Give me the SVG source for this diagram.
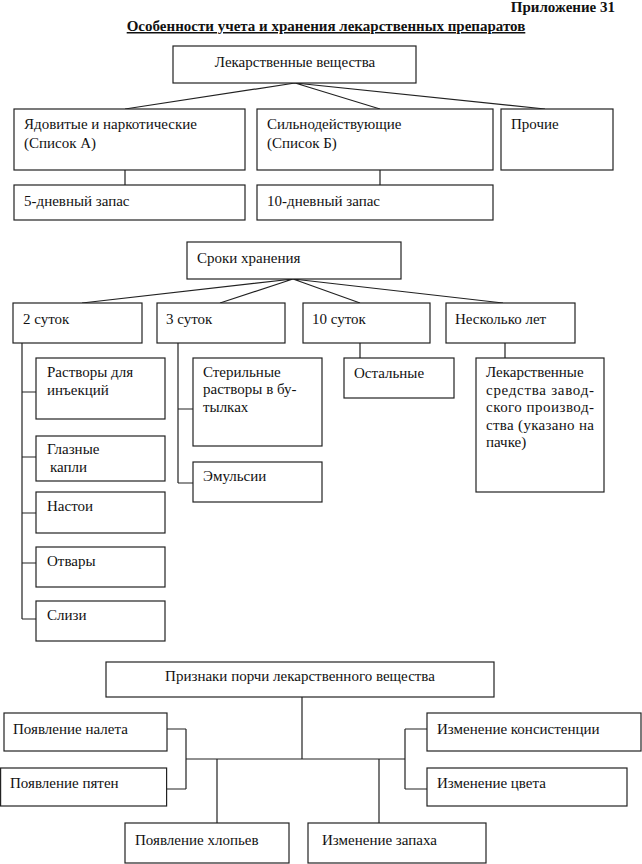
<svg xmlns="http://www.w3.org/2000/svg" width="642" height="864" viewBox="0 0 642 864">
<style>
.b{fill:#fff;stroke:#222;stroke-width:1.2}
.t{font-family:"Liberation Serif","Times New Roman",serif;font-size:15px;fill:#111}
.c{fill:none;stroke:#222;stroke-width:1.2}
.h{font-family:"Liberation Serif","Times New Roman",serif;font-size:15px;font-weight:bold;fill:#111}
</style>
<rect width="642" height="864" fill="#fff"/>
<text class="h" x="615" y="12" text-anchor="end">Приложение 31</text>
<text class="h" x="326" y="31" text-anchor="middle" text-decoration="underline">Особенности учета и хранения лекарственных препаратов</text>
<g id="connectors">
<path class="c" d="M295 83L125 109M295 83L380 109M295 83L545 109M125 170V185M380 170V185"/>
<path class="c" d="M293 279L82 303M293 279L220 303M293 279L360 303M293 279L503 303"/>
<path class="c" d="M22 343V619M22 392H36M22 457H36M22 513H36M22 563H36M22 619H36"/>
<path class="c" d="M178 343V483M178 409H193M178 483H193"/>
<path class="c" d="M360 343V358M505 343V358"/>
<path class="c" d="M302 697V759M186 759H405M186 729V789M167 729H186M167 789H186M217 759V823M379 759V823M405 729V789M405 729H427M405 789H427"/>
</g>
<g id="n1"><rect class="b" x="173" y="46" width="243" height="37"/><text class="t" x="295" y="67" text-anchor="middle">Лекарственные вещества</text></g>
<g id="n2"><rect class="b" x="14" y="109" width="231" height="61"/><text class="t" x="24" y="129">Ядовитые и наркотические</text><text class="t" x="24" y="148">(Список А)</text></g>
<g id="n3"><rect class="b" x="257" y="109" width="236" height="61"/><text class="t" x="267" y="129">Сильнодействующие</text><text class="t" x="267" y="148">(Список Б)</text></g>
<g id="n4"><rect class="b" x="501" y="109" width="112" height="61"/><text class="t" x="511" y="129">Прочие</text></g>
<g id="n5"><rect class="b" x="14" y="185" width="231" height="35"/><text class="t" x="24" y="206">5-дневный запас</text></g>
<g id="n6"><rect class="b" x="257" y="185" width="236" height="35"/><text class="t" x="267" y="206">10-дневный запас</text></g>
<g id="n7"><rect class="b" x="187" y="242" width="214" height="37"/><text class="t" x="197" y="263">Сроки хранения</text></g>
<g id="n8"><rect class="b" x="13" y="303" width="129" height="40"/><text class="t" x="23" y="324">2 суток</text></g>
<g id="n9"><rect class="b" x="157" y="303" width="128" height="40"/><text class="t" x="166" y="324">3 суток</text></g>
<g id="n10"><rect class="b" x="303" y="303" width="127" height="40"/><text class="t" x="312" y="324">10 суток</text></g>
<g id="n11"><rect class="b" x="446" y="303" width="129" height="40"/><text class="t" x="455" y="324">Несколько лет</text></g>
<g id="n12"><rect class="b" x="36" y="358" width="129" height="61"/><text class="t" x="47" y="377">Растворы для</text><text class="t" x="47" y="395">инъекций</text></g>
<g id="n13"><rect class="b" x="36" y="436" width="129" height="45"/><text class="t" x="47" y="454">Глазные</text><text class="t" x="50" y="472">капли</text></g>
<g id="n14"><rect class="b" x="36" y="492" width="129" height="41"/><text class="t" x="47" y="511">Настои</text></g>
<g id="n15"><rect class="b" x="36" y="547" width="129" height="40"/><text class="t" x="47" y="566">Отвары</text></g>
<g id="n16"><rect class="b" x="36" y="601" width="129" height="40"/><text class="t" x="47" y="620">Слизи</text></g>
<g id="n17"><rect class="b" x="193" y="358" width="129" height="88"/><text class="t" x="203" y="377">Стерильные</text><text class="t" x="203" y="394">растворы в бу-</text><text class="t" x="203" y="412">тылках</text></g>
<g id="n18"><rect class="b" x="193" y="462" width="129" height="40"/><text class="t" x="203" y="481">Эмульсии</text></g>
<g id="n19"><rect class="b" x="344" y="358" width="110" height="40"/><text class="t" x="354" y="378">Остальные</text></g>
<g id="n20"><rect class="b" x="476" y="358" width="128" height="134"/>
<text class="t" x="486" y="377">Лекарственные</text>
<text class="t" x="486" y="395" textLength="108" lengthAdjust="spacing">средства завод-</text>
<text class="t" x="486" y="412" textLength="108" lengthAdjust="spacing">ского производ-</text>
<text class="t" x="486" y="430" textLength="108" lengthAdjust="spacing">ства (указано на</text>
<text class="t" x="486" y="447">пачке)</text></g>
<g id="n21"><rect class="b" x="106" y="662" width="388" height="35"/><text class="t" x="300" y="681" text-anchor="middle">Признаки порчи лекарственного вещества</text></g>
<g id="n22"><rect class="b" x="4" y="713" width="163" height="38"/><text class="t" x="13" y="734">Появление налета</text></g>
<g id="n23"><rect class="b" x="0.6" y="768" width="166" height="38"/><text class="t" x="10" y="788">Появление пятен</text></g>
<g id="n24"><rect class="b" x="125" y="823" width="164" height="40"/><text class="t" x="135" y="845">Появление хлопьев</text></g>
<g id="n25"><rect class="b" x="308" y="823" width="178" height="40"/><text class="t" x="322" y="845">Изменение запаха</text></g>
<g id="n26"><rect class="b" x="427" y="713" width="214" height="38"/><text class="t" x="437" y="734">Изменение консистенции</text></g>
<g id="n27"><rect class="b" x="427" y="768" width="200" height="38"/><text class="t" x="437" y="788">Изменение цвета</text></g>
</svg>
